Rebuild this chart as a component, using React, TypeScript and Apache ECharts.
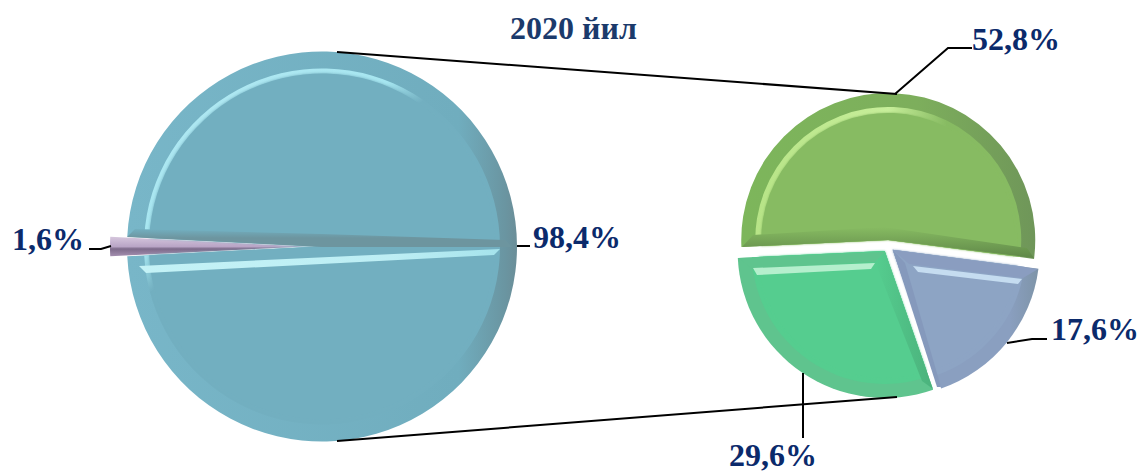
import React, { useEffect, useRef } from "react";
import * as echarts from "echarts";

const titleText = "2020 йил";
const leftNames = ["Асосий улуш", "Бошқа улуш"];
const leftValues = [98.4, 1.6];
const rightNames = ["Биринчи улуш", "Иккинчи улуш", "Учинчи улуш"];
const rightValues = [52.8, 17.6, 29.6];

const LEFT_CENTER = [322, 246.5];
const RIGHT_CENTER = [888, 246];
const LG = (x: number, y: number, x2: number, y2: number, stops: [number, string][]) =>
  new echarts.graphic.LinearGradient(x, y, x2, y2, stops.map(([offset, color]) => ({ offset, color })));

const leftLabelPos = [
  { x: 533, y: 237 },
  { x: 12, y: 239 },
];
const rightLabelPos = [
  { x: 972, y: 39 },
  { x: 1051, y: 329 },
  { x: 729, y: 455 },
];
const fmt = (v: number) => `${v.toFixed(1).replace(".", ",")}%`;

function layer(
  center: number[],
  radius: number,
  names: string[],
  values: number[],
  colors: any[],
  startAngle: number,
  offsetIndexes: number[],
  offset: number,
  blur = 0,
) {
  return {
    type: "pie",
    center,
    radius: [0, radius],
    startAngle,
    clockwise: true,
    silent: true,
    avoidLabelOverlap: false,
    selectedMode: "multiple",
    selectedOffset: offset,
    itemStyle: { borderWidth: 0 },
    labelLine: { show: false },
    label: { show: false },
    emphasis: { disabled: true },
    data: values.map((value, i) => ({
      name: names[i],
      value,
      selected: offsetIndexes.includes(i),
      itemStyle: {
        color: colors[i],
        shadowBlur: blur,
        shadowColor: blur ? colors[i] : "transparent",
      },
      select: { itemStyle: { color: colors[i] } },
    })),
  };
}

const line = (points: number[][], width = 2) => ({
  type: "polyline",
  z: 20,
  shape: { points },
  style: { stroke: "#000", lineWidth: width, fill: "none" },
});
const poly = (points: number[][], fill: any, opacity = 1) => ({
  type: "polygon",
  z: 15,
  shape: { points },
  style: { fill, opacity },
});
const label = (value: number, pos: { x: number; y: number }) => ({
  type: "text",
  z: 30,
  x: pos.x,
  y: pos.y,
  style: {
    text: fmt(value),
    fill: "#0b2a6b",
    font: 'bold 32px "Liberation Serif"',
    align: "left",
    verticalAlign: "middle",
  },
});

export default function App() {
  const ref = useRef<HTMLDivElement>(null);
  useEffect(() => {
    const chart = echarts.init(ref.current!, undefined, { renderer: "svg" });
    const T = "rgba(0,0,0,0)";
    const leftStart = 180 - 2.88;
    const rightStart = 182.7;
    const leftFace = "#72afc0";
    const greenFace = "#87bb62";
    const blueFace = "#8da4c4";
    const mintFace = "#55cd8f";

    chart.setOption({
      animation: false,
      backgroundColor: "#fff",
      title: {
        text: titleText,
        left: 505,
        top: 7,
        textStyle: { fontFamily: "Liberation Serif", fontWeight: "bold", fontSize: 32, color: "#1b3a6b" },
      },
      series: [
        layer(
          LEFT_CENTER,
          195,
          leftNames,
          leftValues,
          [
            LG(0, 0, 1, 0, [
              [0, "#78b6c8"],
              [0.85, "#70adbe"],
              [0.97, "#6a95a1"],
              [1, "#6b8e98"],
            ]),
            LG(0, 0, 0, 1, [
              [0, "#d6c7dd"],
              [0.5, "#b9a5c6"],
              [0.62, "#7d6a8a"],
              [1, "#a48fb0"],
            ]),
          ],
          leftStart,
          [1],
          17,
        ),
        layer(
          LEFT_CENTER,
          178,
          leftNames,
          leftValues,
          [
            LG(0.2, 0, 0.62, 0.6, [
              [0, "#b0e8f2"],
              [0.42, "#a6e6f0"],
              [0.56, leftFace],
              [1, leftFace],
            ]),
            T,
          ],
          leftStart,
          [],
          0,
        ),
        layer(LEFT_CENTER, 173, leftNames, leftValues, [leftFace, T], leftStart, [], 0, 3),
        layer(
          RIGHT_CENTER,
          147,
          rightNames,
          rightValues,
          [
            LG(0, 0, 1, 0, [
              [0, "#7db65b"],
              [0.6, "#7dae5c"],
              [1, "#6f9659"],
            ]),
            LG(0, 0, 1, 0, [
              [0, "#8a9fc0"],
              [0.8, "#8a9fc0"],
              [1, "#7e94a8"],
            ]),
            "#5fc48e",
          ],
          rightStart,
          [0, 1, 2],
          6,
        ),
        layer(
          RIGHT_CENTER,
          133,
          rightNames,
          rightValues,
          [
            LG(0, 0, 1, 0, [
              [0, "#b7e487"],
              [0.5, "#c7ee9a"],
              [0.72, greenFace],
              [1, greenFace],
            ]),
            blueFace,
            mintFace,
          ],
          rightStart,
          [0, 1, 2],
          6,
        ),
        layer(RIGHT_CENTER, 127, rightNames, rightValues, [greenFace, blueFace, mintFace], rightStart, [0, 1, 2], 6, 2),
      ],
      graphic: {
        elements: [
          // bevels of the big pie
          poly(
            [
              [135, 229],
              [322, 234],
              [505, 240],
              [512, 247],
              [322, 247],
              [127, 237],
            ],
            LG(0, 0, 0, 1, [
              [0, leftFace],
              [0.5, "#6d959f"],
              [1, "#6d959f"],
            ]),
          ),
          poly(
            [
              [139, 266],
              [500, 249],
              [494, 255],
              [146, 273],
            ],
            LG(0, 0, 1, 0, [
              [0, "#c4f2f6"],
              [0.7, "#bdeef4"],
              [1, "#a5e3ec"],
            ]),
          ),
          // bevels of the right-hand slices
          poly(
            [
              [742, 247],
              [753, 235],
              [884, 227],
              [1027, 248],
              [1034, 258],
              [888, 240],
            ],
            LG(0, 0, 0, 1, [
              [0, greenFace],
              [1, "#5f8748"],
            ]),
          ),
          poly(
            [
              [739, 258],
              [885, 252],
              [875, 262],
              [752, 269],
            ],
            "#5fc48e",
          ),
          poly(
            [
              [885, 252],
              [933, 389],
              [922, 381],
              [875, 262],
            ],
            LG(1, 0, 0, 0, [
              [0, "#4bb27c"],
              [1, mintFace],
            ]),
          ),
          poly(
            [
              [753, 268],
              [875, 263],
              [871, 269],
              [757, 275],
            ],
            "#b5efcd",
          ),
          poly(
            [
              [893, 250],
              [1038, 269],
              [1023, 278],
              [909, 264],
            ],
            "#8a9dc0",
          ),
          poly(
            [
              [893, 250],
              [905, 263],
              [941, 387],
              [937, 387],
            ],
            "#8599bc",
          ),
          poly(
            [
              [913, 266],
              [1022, 279],
              [1018, 284],
              [918, 272],
            ],
            "#c5dcf0",
          ),
          // connector and leader lines
          line([
            [337, 52],
            [897, 94],
          ]),
          line([
            [337, 441],
            [897, 397],
          ]),
          line([
            [895, 94],
            [948, 48],
            [972, 48],
          ]),
          line([
            [1007, 343],
            [1032, 339],
            [1047, 339],
          ]),
          line([
            [803, 373],
            [803, 438],
          ]),
          line([
            [517, 246],
            [530, 246],
          ]),
          line([
            [89, 249],
            [101, 249],
            [111, 246],
          ]),
          ...leftValues.map((v, i) => label(v, leftLabelPos[i])),
          ...rightValues.map((v, i) => label(v, rightLabelPos[i])),
        ],
      },
    });
    return () => chart.dispose();
  }, []);
  return <div ref={ref} style={{ position: "absolute", left: 0, top: 0, width: 1140, height: 473 }} />;
}
